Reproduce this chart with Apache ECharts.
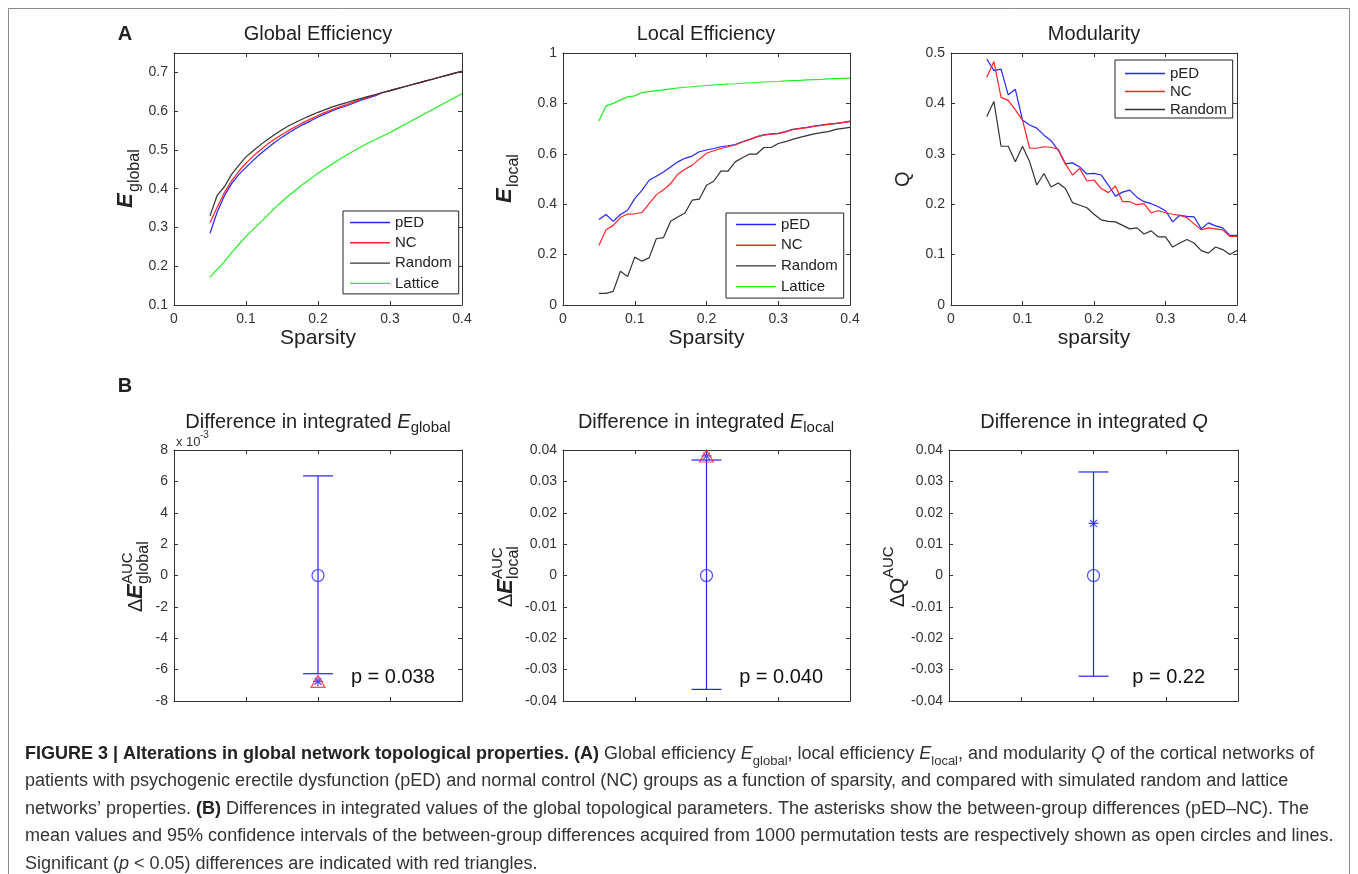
<!DOCTYPE html>
<html>
<head>
<meta charset="utf-8">
<title>Figure 3</title>
<script src="https://cdn.jsdelivr.net/npm/echarts@6.0.0/dist/echarts.min.js"></script>
<style>
  html, body { margin: 0; padding: 0; background: #fff; }
  #chart { width: 1358px; height: 874px; }
</style>
</head>
<body>
<div id="chart"></div>
<script>
// sparsity thresholds shared by the three panel-A plots
var sparsity = [0.05, 0.06, 0.07, 0.08, 0.09, 0.10, 0.11, 0.12, 0.13, 0.14,
  0.15, 0.16, 0.17, 0.18, 0.19, 0.20, 0.21, 0.22, 0.23, 0.24,
  0.25, 0.26, 0.27, 0.28, 0.29, 0.30, 0.31, 0.32, 0.33, 0.34,
  0.35, 0.36, 0.37, 0.38, 0.39, 0.40];

// global efficiency
var gePED = [0.285, 0.340, 0.382, 0.413, 0.437, 0.455, 0.473, 0.490, 0.505, 0.520,
  0.533, 0.545, 0.556, 0.566, 0.575, 0.585, 0.593, 0.601, 0.608, 0.614,
  0.621, 0.628, 0.634, 0.640, 0.648, 0.653, 0.658, 0.663, 0.668, 0.673,
  0.678, 0.683, 0.688, 0.693, 0.698, 0.703];
var geNC = [0.312, 0.352, 0.390, 0.420, 0.445, 0.466, 0.484, 0.500, 0.515, 0.528,
  0.540, 0.551, 0.561, 0.571, 0.580, 0.589, 0.597, 0.604, 0.611, 0.617,
  0.624, 0.630, 0.636, 0.642, 0.648, 0.653, 0.658, 0.663, 0.668, 0.673,
  0.678, 0.683, 0.688, 0.693, 0.698, 0.703];
var geRandom = [0.330, 0.383, 0.405, 0.437, 0.460, 0.482, 0.498, 0.513, 0.527, 0.540,
  0.552, 0.563, 0.572, 0.581, 0.589, 0.597, 0.604, 0.611, 0.617, 0.622,
  0.628, 0.633, 0.638, 0.643, 0.648, 0.653, 0.658, 0.663, 0.668, 0.673,
  0.678, 0.683, 0.688, 0.693, 0.698, 0.703];
var geLattice = [0.172, 0.192, 0.212, 0.235, 0.256, 0.277, 0.295, 0.313, 0.331, 0.350,
  0.367, 0.383, 0.398, 0.413, 0.426, 0.440, 0.452, 0.464, 0.476, 0.487,
  0.498, 0.508, 0.518, 0.527, 0.536, 0.545, 0.555, 0.565, 0.575, 0.585,
  0.595, 0.605, 0.615, 0.625, 0.635, 0.645];

// local efficiency
var lePED = [0.339, 0.359, 0.332, 0.359, 0.376, 0.422, 0.455, 0.495, 0.511, 0.528,
  0.548, 0.568, 0.582, 0.591, 0.608, 0.615, 0.621, 0.628, 0.632, 0.637,
  0.648, 0.657, 0.668, 0.675, 0.679, 0.681, 0.688, 0.697, 0.701, 0.705,
  0.710, 0.714, 0.718, 0.721, 0.725, 0.730];
var leNC = [0.236, 0.299, 0.316, 0.347, 0.361, 0.362, 0.367, 0.402, 0.437, 0.457,
  0.482, 0.519, 0.539, 0.555, 0.579, 0.602, 0.612, 0.621, 0.628, 0.635,
  0.647, 0.656, 0.667, 0.674, 0.678, 0.680, 0.687, 0.696, 0.700, 0.704,
  0.709, 0.713, 0.717, 0.720, 0.724, 0.728];
var leRandom = [0.046, 0.046, 0.054, 0.134, 0.113, 0.190, 0.174, 0.187, 0.263, 0.267,
  0.332, 0.349, 0.365, 0.416, 0.420, 0.475, 0.491, 0.531, 0.531, 0.568,
  0.584, 0.599, 0.599, 0.625, 0.625, 0.641, 0.648, 0.657, 0.665, 0.672,
  0.679, 0.684, 0.688, 0.697, 0.701, 0.705];
var leLattice = [0.730, 0.790, 0.800, 0.813, 0.826, 0.830, 0.843, 0.847, 0.851, 0.854,
  0.858, 0.861, 0.864, 0.866, 0.869, 0.871, 0.873, 0.875, 0.877, 0.878,
  0.880, 0.882, 0.883, 0.885, 0.886, 0.887, 0.889, 0.890, 0.891, 0.893,
  0.894, 0.895, 0.897, 0.898, 0.899, 0.900];

// modularity
var qPED = [0.488, 0.465, 0.468, 0.417, 0.428, 0.367, 0.357, 0.351, 0.337, 0.326,
  0.307, 0.280, 0.282, 0.274, 0.260, 0.261, 0.258, 0.238, 0.216, 0.224,
  0.228, 0.214, 0.205, 0.201, 0.195, 0.187, 0.165, 0.178, 0.176, 0.175,
  0.151, 0.163, 0.157, 0.153, 0.138, 0.138];
var qNC = [0.452, 0.483, 0.412, 0.406, 0.387, 0.367, 0.311, 0.311, 0.314, 0.313,
  0.309, 0.280, 0.258, 0.271, 0.246, 0.248, 0.231, 0.223, 0.236, 0.205,
  0.205, 0.199, 0.201, 0.183, 0.187, 0.183, 0.180, 0.178, 0.173, 0.161,
  0.149, 0.153, 0.151, 0.149, 0.136, 0.136];
var qRandom = [0.374, 0.404, 0.315, 0.315, 0.284, 0.315, 0.284, 0.238, 0.261, 0.234,
  0.242, 0.231, 0.203, 0.198, 0.193, 0.180, 0.169, 0.166, 0.165, 0.158,
  0.151, 0.153, 0.141, 0.147, 0.135, 0.135, 0.115, 0.123, 0.130, 0.123,
  0.108, 0.103, 0.115, 0.110, 0.100, 0.108];

// panel B: permutation mean, 95% CI, observed pED-NC difference
var diffMean = [0, 0, 0];
var diffLow = [-0.00626, -0.0363, -0.0321];
var diffHigh = [0.00635, 0.0368, 0.0330];
var diffObserved = [-0.00675, 0.0381, 0.0166];
var diffSignificant = [true, true, false];
var diffP = ['p = 0.038', 'p = 0.040', 'p = 0.22'];

// axis ranges [min, max, interval]
var yRanges = [[0.1, 0.75, 0.1], [0, 1, 0.2], [0, 0.5, 0.1],
  [-0.008, 0.008, 0.002], [-0.04, 0.04, 0.01], [-0.04, 0.04, 0.01]];
var xNames = ['Sparsity', 'Sparsity', 'sparsity'];

var captionLines = [
  '{b|FIGURE 3 | Alterations in global network topological properties. (A)} Global efficiency {i|E}{s|global}, local efficiency {i|E}{s|local}, and modularity {i|Q} of the cortical networks of',
  'patients with psychogenic erectile dysfunction (pED) and normal control (NC) groups as a function of sparsity, and compared with simulated random and lattice',
  'networks\u2019 properties. {b|(B)} Differences in integrated values of the global topological parameters. The asterisks show the between-group differences (pED\u2013NC). The',
  'mean values and 95% confidence intervals of the between-group differences acquired from 1000 permutation tests are respectively shown as open circles and lines.',
  'Significant ({i|p} < 0.05) differences are indicated with red triangles.'
];

var FONT = '"Liberation Sans", Arial, Helvetica, sans-serif';
var AXIS = '#333';
var BLUE = '#2424ff', RED = '#ff2424', BLACK = '#333333', GREEN = '#22ee22';
var ASTERISK = 'path://M0,5L10,5M5,0L5,10M1.6,1.6L8.4,8.4M1.6,8.4L8.4,1.6';
var LEGEND_LINE = 'path://M0,0L40,0L40,1.4L0,1.4Z';

var grids = [
  { left: 174, top: 53, width: 288, height: 252 },
  { left: 563, top: 53, width: 287, height: 252 },
  { left: 951, top: 53, width: 286, height: 252 },
  { left: 174, top: 450, width: 288, height: 251 },
  { left: 563, top: 450, width: 287, height: 251 },
  { left: 949, top: 450, width: 289, height: 251 }
];
grids.forEach(function (g) { g.outerBoundsMode = 'none'; });

var xAxes = [], yAxes = [];
var tick = { show: true, inside: true, length: 4, lineStyle: { color: AXIS, width: 1 } };
var line = { show: true, onZero: false, lineStyle: { color: AXIS, width: 1 } };
[false, true].forEach(function (mirror) {
  for (var g = 0; g < 6; g++) {
    var isA = g < 3;
    xAxes.push({
      type: 'value', gridIndex: g, position: mirror ? 'top' : 'bottom',
      min: 0, max: isA ? 0.4 : 2, interval: isA ? 0.1 : 0.5,
      axisLine: line, axisTick: tick, splitLine: { show: false },
      axisLabel: { show: isA && !mirror, color: '#333', fontSize: 14, margin: 7,
        fontFamily: FONT, showMinLabel: true, showMaxLabel: true },
      name: (isA && !mirror) ? xNames[g] : '', nameLocation: 'middle', nameGap: 23,
      nameTextStyle: { fontSize: 21, color: '#222', fontFamily: FONT }
    });
    var r = yRanges[g];
    yAxes.push({
      type: 'value', gridIndex: g, position: mirror ? 'right' : 'left',
      min: r[0], max: r[1], interval: r[2],
      axisLine: line, axisTick: tick, splitLine: { show: false },
      axisLabel: { show: !mirror, color: '#333', fontSize: 14, margin: 6, fontFamily: FONT,
        showMinLabel: true, showMaxLabel: g !== 0,
        formatter: g === 3 ? function (v) { return String(Math.round(v * 1000)); } : null }
    });
  }
});

function lineSeries(name, color, ys, g) {
  return {
    name: name, type: 'line', xAxisIndex: g, yAxisIndex: g,
    data: sparsity.map(function (x, i) { return [x, ys[i]]; }),
    symbol: 'none', showSymbol: false, silent: true,
    lineStyle: { color: color, width: 1.2 }, itemStyle: { color: color }
  };
}

var series = [
  lineSeries('pED', BLUE, gePED, 0), lineSeries('NC', RED, geNC, 0),
  lineSeries('Random', BLACK, geRandom, 0), lineSeries('Lattice', GREEN, geLattice, 0),
  lineSeries('pED', BLUE, lePED, 1), lineSeries('NC', RED, leNC, 1),
  lineSeries('Random', BLACK, leRandom, 1), lineSeries('Lattice', GREEN, leLattice, 1),
  lineSeries('pED', BLUE, qPED, 2), lineSeries('NC', RED, qNC, 2),
  lineSeries('Random', BLACK, qRandom, 2)
];

function renderErrorBar(params, api) {
  var x = api.value(0);
  var lo = api.coord([x, api.value(1)]);
  var hi = api.coord([x, api.value(2)]);
  var half = 15;
  var st = { stroke: BLUE, lineWidth: 1.2 };
  return {
    type: 'group',
    children: [
      { type: 'line', shape: { x1: lo[0], y1: lo[1], x2: hi[0], y2: hi[1] }, style: st },
      { type: 'line', shape: { x1: lo[0] - half, y1: lo[1], x2: lo[0] + half, y2: lo[1] }, style: st },
      { type: 'line', shape: { x1: hi[0] - half, y1: hi[1], x2: hi[0] + half, y2: hi[1] }, style: st }
    ]
  };
}

var hollow = 'rgba(0,0,0,0)';
for (var k = 0; k < 3; k++) {
  var g = 3 + k;
  series.push({ type: 'custom', xAxisIndex: g, yAxisIndex: g, silent: true, z: 2,
    data: [[1, diffLow[k], diffHigh[k]]], encode: { x: 0, y: [1, 2] }, renderItem: renderErrorBar });
  series.push({ type: 'scatter', xAxisIndex: g, yAxisIndex: g, silent: true, z: 3,
    data: [[1, diffMean[k]]], symbol: 'circle', symbolSize: 12,
    itemStyle: { color: hollow, borderColor: BLUE, borderWidth: 1.2 } });
  series.push({ type: 'scatter', xAxisIndex: g, yAxisIndex: g, silent: true, z: 4,
    data: [[1, diffObserved[k]]], symbol: ASTERISK, symbolSize: 10,
    itemStyle: { color: hollow, borderColor: BLUE, borderWidth: 1.2 } });
  if (diffSignificant[k]) {
    series.push({ type: 'scatter', xAxisIndex: g, yAxisIndex: g, silent: true, z: 5,
      data: [[1, diffObserved[k]]], symbol: 'triangle', symbolSize: [14, 12],
      itemStyle: { color: hollow, borderColor: RED, borderWidth: 1.2 } });
  }
}

function legend(names, left, top, padding, itemHeight, gap) {
  return {
    data: names, orient: 'vertical', left: left, top: top, padding: padding,
    icon: LEGEND_LINE, itemWidth: 40, itemHeight: itemHeight, itemGap: gap,
    selectedMode: false, backgroundColor: '#fff', borderColor: '#222',
    borderWidth: 1, borderRadius: 0,
    textStyle: { fontSize: 15, color: '#222', fontFamily: FONT, lineHeight: itemHeight }
  };
}

function text(x, y, str, size, extra) {
  var style = { text: str, fontSize: size, fontFamily: FONT, fill: '#222',
    align: 'center', verticalAlign: 'middle' };
  for (var key in extra) style[key] = extra[key];
  return { type: 'text', x: x, y: y, style: style, silent: true };
}

// rotated y-axis label built from pieces: [text, dx, dy, size, italic, bold]
function yLabel(x, y, parts) {
  return {
    type: 'group', x: x, y: y, rotation: Math.PI / 2, silent: true,
    children: parts.map(function (p) {
      return { type: 'text', x: p[1], y: p[2], style: { text: p[0], fontSize: p[3],
        fontStyle: p[4] ? 'italic' : 'normal', fontWeight: p[5] ? 'bold' : 'normal',
        fontFamily: FONT, fill: '#222', align: 'left', verticalAlign: 'middle' } };
    })
  };
}

var richTitle = {
  n: { fontSize: 20, lineHeight: 26, fontFamily: FONT, fill: '#222' },
  i: { fontSize: 20, lineHeight: 26, fontStyle: 'italic', fontFamily: FONT, fill: '#222' },
  s: { fontSize: 15, lineHeight: 14, verticalAlign: 'bottom', fontFamily: FONT, fill: '#222' }
};

var graphics = [
  { type: 'rect', shape: { x: 8.5, y: 8.5, width: 1341, height: 880 },
    style: { fill: 'none', stroke: '#8a8a8a', lineWidth: 1 }, silent: true },
  text(125, 34, 'A', 20, { fontWeight: 'bold' }),
  text(125, 386, 'B', 20, { fontWeight: 'bold' }),
  text(318, 34, 'Global Efficiency', 20),
  text(706, 34, 'Local Efficiency', 20),
  text(1094, 34, 'Modularity', 20),
  text(318, 422, '{n|Difference in integrated }{i|E}{s|global}', 20, { rich: richTitle }),
  text(706, 422, '{n|Difference in integrated }{i|E}{s|local}', 20, { rich: richTitle }),
  text(1094, 422, '{n|Difference in integrated }{i|Q}', 20, { rich: richTitle }),
  text(176, 442, 'x 10', 13, { align: 'left', fill: '#333' }),
  text(200, 435, '-3', 10, { align: 'left', fill: '#333' }),
  yLabel(126, 208, [['E', 0, 0, 22, true, true], ['global', 16, 9, 16, false]]),
  yLabel(505, 203, [['E', 0, 0, 22, true, true], ['local', 16, 9, 16, false]]),
  yLabel(903, 187, [['Q', 0, 0, 20, false]]),
  yLabel(136, 612, [['\u0394', 0, 0, 20, false], ['E', 13, 0, 22, true, true],
    ['AUC', 28, -8, 15, false], ['global', 28, 8, 16, false]]),
  yLabel(506, 607, [['\u0394', 0, 0, 20, false], ['E', 13, 0, 22, true, true],
    ['AUC', 28, -8, 15, false], ['local', 28, 8, 16, false]]),
  yLabel(898, 607, [['\u0394', 0, 0, 20, false], ['Q', 13, 0, 21, false],
    ['AUC', 29, -9, 15, false]])
];

var pAnchor = [0.76, 0.905];
for (var j = 0; j < 3; j++) {
  var gr = grids[3 + j];
  graphics.push(text(gr.left + pAnchor[0] * gr.width, gr.top + pAnchor[1] * gr.height,
    diffP[j], 20, { fill: '#111' }));
}

graphics.push({
  type: 'text', x: 25, y: 740, silent: true,
  style: {
    text: captionLines.join('\n'), fontSize: 18, lineHeight: 27.5, fontFamily: FONT,
    fill: '#333', align: 'left', verticalAlign: 'top',
    rich: {
      b: { fontSize: 18, lineHeight: 27.5, fontWeight: 'bold', fontFamily: FONT, fill: '#222' },
      i: { fontSize: 18, lineHeight: 27.5, fontStyle: 'italic', fontFamily: FONT, fill: '#333' },
      s: { fontSize: 13, lineHeight: 14, verticalAlign: 'bottom', fontFamily: FONT, fill: '#333' }
    }
  }
});

var chart = echarts.init(document.getElementById('chart'), null, { renderer: 'canvas' });
chart.setOption({
  backgroundColor: '#fff',
  animation: false,
  textStyle: { fontFamily: FONT },
  grid: grids,
  xAxis: xAxes,
  yAxis: yAxes,
  legend: [
    legend(['pED', 'NC', 'Random', 'Lattice'], 343, 211, [4, 7, 3, 7], 14, 5.3),
    legend(['pED', 'NC', 'Random', 'Lattice'], 726, 213, [4, 6, 4, 10], 14, 5.7),
    legend(['pED', 'NC', 'Random'], 1115, 60, [6, 6, 1, 10], 13, 3)
  ],
  series: series,
  graphic: graphics
});
</script>
</body>
</html>
